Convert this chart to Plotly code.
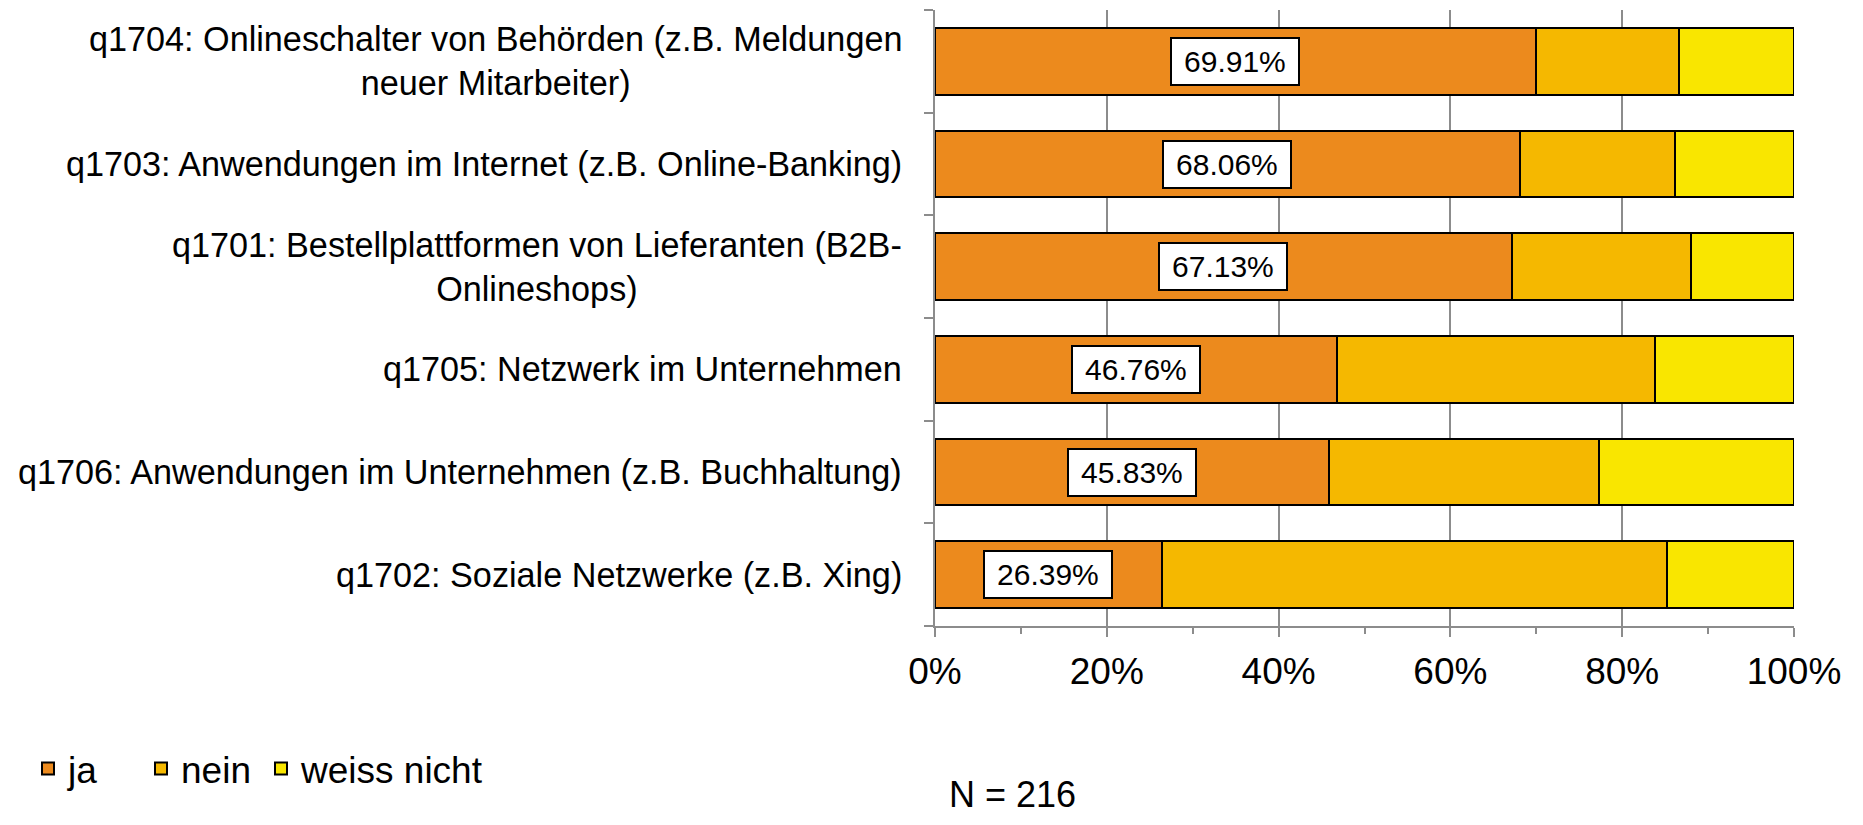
import plotly.graph_objects as go

categories = [
    "q1704: Onlineschalter von Behörden (z.B. Meldungen<br>neuer Mitarbeiter)",
    "q1703: Anwendungen im Internet (z.B. Online-Banking)",
    "q1701: Bestellplattformen von Lieferanten (B2B-<br>Onlineshops)",
    "q1705: Netzwerk im Unternehmen",
    "q1706: Anwendungen im Unternehmen (z.B. Buchhaltung)",
    "q1702: Soziale Netzwerke (z.B. Xing)",
]
cat_ids = ["q1704", "q1703", "q1701", "q1705", "q1706", "q1702"]
ja = [69.91, 68.06, 67.13, 46.76, 45.83, 26.39]
nein = [16.67, 18.06, 20.83, 37.04, 31.48, 58.80]
weiss_nicht = [13.43, 13.89, 12.04, 16.20, 22.69, 14.81]
series_names = ["ja", "nein", "weiss nicht"]
colors = ["#EC8A1D", "#F5B800", "#F9E600"]
x_tick_vals = [0, 20, 40, 60, 80, 100]
x_tick_text = ["0%", "20%", "40%", "60%", "80%", "100%"]
note = "N = 216"

FONT = "Arial, 'Liberation Sans', sans-serif"
GRAY = "#8C8C8C"

# page body has an 8px margin: size the figure to fit the window
W, H = 1847, 809
ML, MR, MT, MB = 927, 61, 2, 191
PW, PH = W - ML - MR, H - MT - MB


def px_x(fx):  # figure-pixel x -> paper fraction
    return (fx - ML) / PW


def px_y(fy):  # figure-pixel y -> paper fraction
    return (H - MB - fy) / PH


legend_names = ["legend", "legend2", "legend3"]
legend_left = [20, 133, 253]

fig = go.Figure()
for name, vals, col, lg in zip(series_names, [ja, nein, weiss_nicht], colors, legend_names):
    fig.add_trace(go.Bar(
        y=cat_ids, x=vals, name=name, orientation="h", legend=lg,
        marker=dict(color=col, line=dict(color="black", width=2)),
        hoverinfo="x+name",
    ))

# value labels for "ja"
for cid, v in zip(cat_ids, ja):
    fig.add_annotation(
        x=v / 2, y=cid, xref="x", yref="y",
        text="\u2009%.2f%%\u2009" % v, showarrow=False,
        font=dict(family=FONT, size=30, color="black"),
        bgcolor="white", bordercolor="black", borderwidth=2, borderpad=6,
    )

# category labels (centered multi-line, right edge near axis)
for cid, lab in zip(cat_ids, categories):
    fig.add_annotation(
        x=0, y=cid, xref="paper", yref="y", xanchor="right",
        xshift=-31, text=lab, showarrow=False, align="center",
        font=dict(family=FONT, size=34.2, color="black"),
    )

fig.add_annotation(
    x=px_x(1004), y=px_y(808), xref="paper", yref="paper",
    xanchor="center", yanchor="bottom", text=note, showarrow=False,
    borderpad=0, font=dict(family=FONT, size=36, color="black"),
)

legend_common = dict(
    orientation="h", yanchor="middle", xanchor="left",
    font=dict(family=FONT, size=37, color="black"),
    itemclick=False, itemdoubleclick=False, bgcolor="rgba(0,0,0,0)",
)
layout_legends = {}
for lg, lx in zip(legend_names, legend_left):
    layout_legends[lg] = dict(legend_common, x=px_x(lx), y=px_y(761))

fig.update_layout(
    width=W, height=H,
    margin=dict(l=ML, r=MR, t=MT, b=MB, autoexpand=False),
    barmode="stack", bargap=0.35,
    plot_bgcolor="white", paper_bgcolor="white",
    font=dict(family=FONT, color="black"),
    showlegend=True,
    xaxis=dict(
        range=[0, 100], tickmode="array", tickvals=x_tick_vals, ticktext=x_tick_text,
        showgrid=True, gridcolor=GRAY, gridwidth=2,
        showline=True, linecolor=GRAY, linewidth=2,
        ticks="outside", ticklen=9, tickwidth=2, tickcolor=GRAY,
        minor=dict(dtick=10, ticks="outside", ticklen=6, tickwidth=2, tickcolor=GRAY, showgrid=False),
        tickfont=dict(family=FONT, size=37, color="black"),
        ticklabelstandoff=3, zeroline=False, fixedrange=True,
    ),
    yaxis=dict(
        categoryorder="array", categoryarray=cat_ids[::-1],
        showticklabels=False, showgrid=False,
        showline=True, linecolor=GRAY, linewidth=2,
        ticks="outside", ticklen=9, tickwidth=2, tickcolor=GRAY,
        tickson="boundaries", fixedrange=True,
    ),
    **layout_legends,
)

fig.write_html("out.html")
